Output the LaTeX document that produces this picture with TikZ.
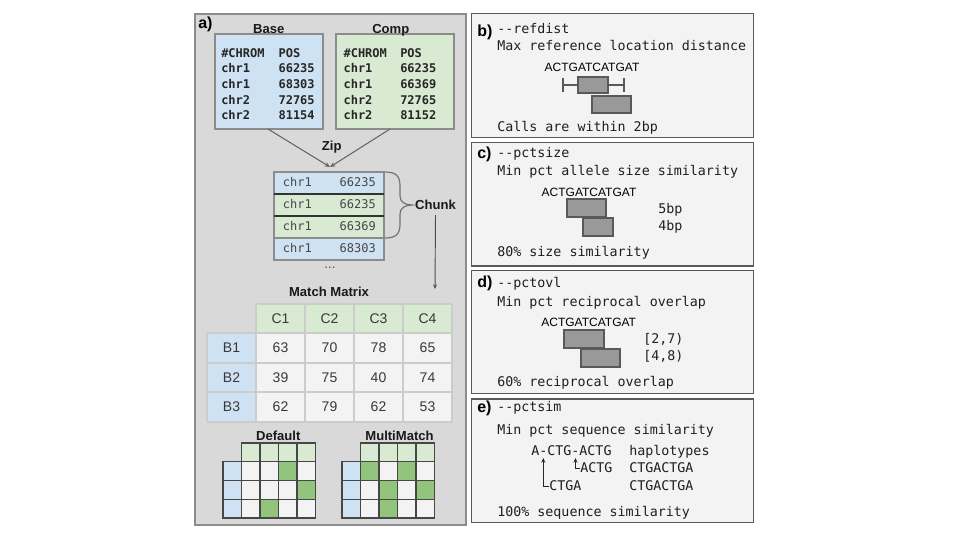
\documentclass[tikz,border=0pt]{standalone}
\usepackage{fontspec}
\setmainfont{Liberation Sans}
\setmonofont{DejaVu Sans Mono}
\usetikzlibrary{arrows.meta}
\definecolor{pabg}{HTML}{D9D9D9}
\definecolor{pbbg}{HTML}{F3F3F3}
\definecolor{bluec}{HTML}{CFE2F3}
\definecolor{greenc}{HTML}{D9EAD3}
\definecolor{greend}{HTML}{93C47D}
\definecolor{cellc}{HTML}{F3F3F3}
\definecolor{boxg}{HTML}{999999}
\begin{document}
\begin{tikzpicture}[x=0.75pt,y=-0.75pt,
  panelA/.style={draw=black!45,fill=pabg,line width=1pt},
  panelB/.style={draw=black!65,fill=pbbg,line width=1pt},
  plabel/.style={font=\bfseries\fontsize{12}{14}\selectfont,inner sep=0,anchor=base west},
  ttl/.style={font=\bfseries\fontsize{9.8}{12}\selectfont,inner sep=0,anchor=base,text=black!90},
  mono/.style={font=\ttfamily\fontsize{10}{12}\selectfont,inner sep=0,anchor=base west,text=black!88},
  tabtxt/.style={font=\ttfamily\bfseries\fontsize{9}{11}\selectfont,inner sep=0,anchor=base west,text=black!85},
  chunktxt/.style={font=\ttfamily\fontsize{9}{11}\selectfont,inner sep=0,text=black!72},
  seq/.style={font=\fontsize{9}{11}\selectfont,inner sep=0,anchor=base},
  gbox/.style={draw=black!65,fill=boxg,line width=0.8pt},
  mtxt/.style={font=\fontsize{10.5}{12}\selectfont,text=black!78,inner sep=0},
  mline/.style={draw=black!20,line width=1.2pt},
  sg/.style={draw=black!72,line width=0.9pt},
  conn/.style={draw=black!60,line width=0.8pt},
  tip/.style={-{Stealth[length=4pt,width=3.5pt]}}
]
\useasboundingbox (0,0) rectangle (960,540);

% ---------------- panel a ----------------
\draw[panelA] (195,14) rectangle (466,525);
\node[plabel] (la) at (198,28) {a)};

\draw[draw=black!45,fill=bluec,line width=0.8pt] (215,34) rectangle (323,129);
\draw[draw=black!45,fill=greenc,line width=0.8pt] (336,34) rectangle (454,129);
\node[ttl] (tbase) at (268.7,33.3) {Base};
\node[ttl] (tcomp) at (390.8,33.3) {Comp};

\foreach \r/\a/\b [count=\k] in {57/{\#CHROM}/POS,72.7/chr1/66235,88.4/chr1/68303,104/chr2/72765,119.8/chr2/81154}{
  \node[tabtxt] (bc\k) at (221,\r) {\a};
  \node[tabtxt] (bp\k) at (278.3,\r) {\b};
}
\foreach \r/\a/\b [count=\k] in {57/{\#CHROM}/POS,72.7/chr1/66235,88.4/chr1/66369,104/chr2/72765,119.8/chr2/81152}{
  \node[tabtxt] (cc\k) at (343.3,\r) {\a};
  \node[tabtxt] (cp\k) at (400,\r) {\b};
}

\coordinate (baseS) at (268,129);
\coordinate (compS) at (390,129);
\coordinate (zipT) at (330,167);
\draw[conn,tip] (baseS) -- (zipT);
\draw[conn,tip] (compS) -- (zipT);
\node[ttl] (tzip) at (331.7,150) {Zip};

% chunk list
\fill[bluec] (274,172) rectangle (384,194);
\fill[greenc] (274,194) rectangle (384,216);
\fill[greenc] (274,216) rectangle (384,238);
\fill[bluec] (274,238) rectangle (384,260);
\draw[draw=black!45,line width=0.8pt] (274,172) rectangle (384,260);
\draw[draw=black!45,line width=0.8pt] (274,238) -- (384,238);
\draw[draw=black!80,line width=1.2pt] (274,194) -- (384,194);
\draw[draw=black!80,line width=1.2pt] (274,216) -- (384,216);
\foreach \r/\b [count=\k] in {186.7/66235,208.7/66235,230.7/66369,252.7/68303}{
  \node[chunktxt,anchor=base west] (kc\k) at (282.7,\r) {chr1};
  \node[chunktxt,anchor=base east] (kp\k) at (376,\r) {\b};
}
\draw[draw=black!55,line width=0.9pt] (385,172) .. controls (396,172) and (400,176) .. (400,186) -- (400,196) .. controls (400,202) and (405,205) .. (412,205) .. controls (405,205) and (400,208) .. (400,214) -- (400,224) .. controls (400,234) and (396,238) .. (385,238);
\node[ttl] (tchunk) at (435.5,209.3) {Chunk};
\coordinate (chunkEnd) at (435,289);
\draw[draw=black!70,line width=0.7pt,-{Stealth[length=3.5pt,width=3pt]}] ([yshift=-4pt]tchunk.south) -- (chunkEnd);
\node[font=\fontsize{10}{12}\selectfont,text=black!70,inner sep=0] (dots) at (330,268) {...};
\node[ttl] (tmm) at (329,296) {Match Matrix};

% match matrix
\foreach \c in {0,...,3}{
  \fill[greenc] ({256+49*\c},304) rectangle +(49,29.2);
  \foreach \r in {0,1,2}{
    \fill[cellc] ({256+49*\c},{333.2+29.5*\r}) rectangle +(49,29.5);
  }
}
\fill[bluec] (207,333.2) rectangle (256,421.7);
\foreach \c in {0,...,4}{ \draw[mline] ({256+49*\c},304) -- ({256+49*\c},421.7); }
\draw[mline] (256,304) -- (452,304);
\foreach \r in {0,...,3}{ \draw[mline] (207,{333.2+29.5*\r}) -- (452,{333.2+29.5*\r}); }
\draw[mline] (207,333.2) -- (207,421.7);
\foreach \t [count=\c from 0] in {C1,C2,C3,C4}{
  \node[mtxt] (mh\c) at ({280.5+49*\c},318.6) {\t};
}
\foreach \t [count=\r from 0] in {B1,B2,B3}{
  \node[mtxt] (mr\r) at (231.5,{348+29.5*\r}) {\t};
}
\foreach \r/\vals in {0/{63,70,78,65},1/{39,75,40,74},2/{62,79,62,53}}{
  \foreach \v [count=\c from 0] in \vals {
    \node[mtxt] (mv\r\c) at ({280.5+49*\c},{348+29.5*\r}) {\v};
  }
}

% small grids
\foreach \X/\name in {223/Default,342/MultiMatch}{
  \foreach \c in {1,...,4}{
    \draw[sg,fill=greenc] ({\X+18.5*\c},443) rectangle +(18.5,18.75);
    \foreach \r in {1,2,3}{
      \draw[sg,fill=cellc] ({\X+18.5*\c},{443+18.75*\r}) rectangle +(18.5,18.75);
    }
  }
  \foreach \r in {1,2,3}{
    \draw[sg,fill=bluec] (\X,{443+18.75*\r}) rectangle +(18.5,18.75);
  }
}
\foreach \r/\c in {1/3,2/4,3/2}{
  \draw[sg,fill=greend] ({223+18.5*\c},{443+18.75*\r}) rectangle +(18.5,18.75);
}
\foreach \r/\c in {1/1,1/3,2/2,2/4,3/2}{
  \draw[sg,fill=greend] ({342+18.5*\c},{443+18.75*\r}) rectangle +(18.5,18.75);
}
\node[ttl] (tdef) at (278.3,440) {Default};
\node[ttl] (tmulti) at (399.5,440) {MultiMatch};

% ---------------- panel b ----------------
\draw[panelB] (471.5,13.5) rectangle (753.5,137.5);
\node[plabel] (lb) at (477,36) {b)};
\node[mono] (b1) at (497,33) {{-}{-}refdist};
\node[mono] (b2) at (497,50.5) {Max reference location distance};
\node[seq] (bseq) at (592,71.5) {ACTGATCATGAT};
\draw[draw=black!65,line width=0.8pt] (563,78) -- (563,92) (563,85) -- (578,85) (608,85) -- (624,85) (624,78) -- (624,92);
\draw[gbox] (578,77) rectangle (608,93);
\draw[gbox] (592,96) rectangle (631,113);
\node[mono] (b3) at (497,131.7) {Calls are within 2bp};

% ---------------- panel c ----------------
\draw[panelB] (471.5,142.5) rectangle (753.5,266);
\node[plabel] (lc) at (477,158.5) {c)};
\node[mono] (c1) at (497,157.7) {{-}{-}pctsize};
\node[mono] (c2) at (497,175.7) {Min pct allele size similarity};
\node[seq] (cseq) at (589,196.7) {ACTGATCATGAT};
\draw[gbox] (567,199) rectangle (606,217);
\draw[gbox] (583,218) rectangle (613,236);
\node[mono] (c3) at (658,213.5) {5bp};
\node[mono] (c4) at (658,230.7) {4bp};
\node[mono] (c5) at (497,256.7) {80\% size similarity};

% ---------------- panel d ----------------
\draw[panelB] (471.5,270.5) rectangle (753.5,393.5);
\node[plabel] (ld) at (477,287.7) {d)};
\node[mono] (d1) at (497,287.7) {{-}{-}pctovl};
\node[mono] (d2) at (497,306.7) {Min pct reciprocal overlap};
\node[seq] (dseq) at (588.7,326) {ACTGATCATGAT};
\draw[gbox] (564,330) rectangle (604,348);
\draw[gbox] (581,349) rectangle (620,367);
\node[mono] (d3) at (643,343.3) {[2,7)};
\node[mono] (d4) at (643,360.3) {[4,8)};
\node[mono] (d5) at (497,386.7) {60\% reciprocal overlap};

% ---------------- panel e ----------------
\draw[panelB] (471.5,399) rectangle (753.5,522.5);
\node[plabel] (le) at (477,412.5) {e)};
\node[mono] (e1) at (497,411.7) {{-}{-}pctsim};
\node[mono] (e2) at (497,434) {Min pct sequence similarity};
\node[mono] (e3) at (531,455.7) {A-CTG-ACTG};
\node[mono] (e4) at (629,455.7) {haplotypes};
\node[mono] (e5) at (580,472.3) {ACTG};
\node[mono] (e6) at (629,472.3) {CTGACTGA};
\node[mono] (e7) at (549,490) {CTGA};
\node[mono] (e8) at (629,490) {CTGACTGA};
\node[mono] (e9) at (497,516.7) {100\% sequence similarity};
\coordinate (ins1) at (543.3,458);
\coordinate (ins2) at (575.5,458);
\draw[draw=black!85,line width=0.7pt,-{Stealth[length=3.5pt,width=3pt]}] (e7.west |- 0,486) -- (543.3,486) -- (ins1);
\draw[draw=black!85,line width=0.7pt,-{Stealth[length=3.5pt,width=3pt]}] (e5.west |- 0,468.5) -- (575.5,468.5) -- (ins2);
\end{tikzpicture}
\end{document}
